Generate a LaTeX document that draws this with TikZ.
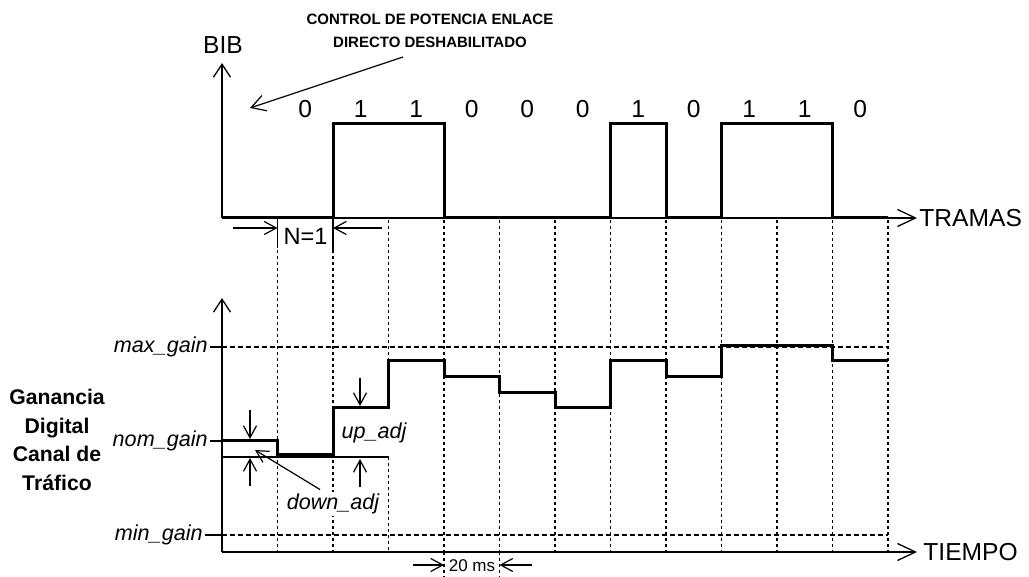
\documentclass[tikz,border=0pt]{standalone}
\usepackage{fontspec}
\setmainfont{Liberation Sans}
\usetikzlibrary{arrows.meta, positioning, calc}
\definecolor{ink}{HTML}{000000}

\begin{document}
\begin{tikzpicture}[x=0.5pt, y=-0.5pt, font=\fontsize{12.3}{14}\selectfont, ink,
    axis/.style={line width=0.65pt, -{Straight Barb[length=6.5pt, width=8.5pt]}},
    longaxis/.style={line width=0.65pt, -{Straight Barb[length=9pt, width=8.5pt]}},
    gap/.style={line width=0.6pt, -{Straight Barb[length=6pt, width=6.5pt]}},
    wave/.style={line width=1.5pt, line join=miter},
    framegrid/.style={line width=0.9pt, dash pattern=on 1.6pt off 1.4pt},
    gainlevel/.style={line width=0.65pt, dash pattern=on 2.5pt off 1.5pt},
    gainlbl/.style={font=\fontsize{10.8}{12}\selectfont\itshape, anchor=east, inner sep=1pt},
    adjlbl/.style={font=\fontsize{10.8}{12}\selectfont\itshape, inner sep=1pt, fill=white}]
  \useasboundingbox (0,0) rectangle (1029,577);

  % frame grid
  \foreach \i in {1,2,4,5,6,7,8,9,10,11,12} \draw[framegrid] (222+55.5*\i,220) -- (222+55.5*\i,552);
  \draw[framegrid] (388.5,220) -- (388.5,361) (388.5,457) -- (388.5,552);
  \foreach \i in {4,5} \draw[framegrid] (222+55.5*\i,552) -- (222+55.5*\i,577);
  \draw[line width=0.6pt] (277.5,218) -- (277.5,248) (333,218) -- (333,250);

  % BIB axis
  \coordinate (o1) at (222,218);
  \coordinate (bibtop) at (222,63);
  \coordinate (tramas) at (917,218);
  \draw[axis] (o1) -- (bibtop);
  \draw[longaxis] (o1) -- (tramas);
  \node (bib) at (223,45) {BIB};
  \node[anchor=west, inner sep=1pt] (tramaslbl) at (tramas) {TRAMAS};
  \foreach \b [count=\i] in {0,1,1,0,0,0,1,0,1,1,0}
    \node (bit\i) at (249.75+55.5*\i,109) {\b};
  \draw[wave] (o1) -| (333,124) -| (444,218) -| (610.5,124) -| (666,218) -| (721.5,124) -| (832.5,218) -- (888,218);

  \node[align=center, font=\fontsize{7.5}{11.5}\selectfont\bfseries] (ctrl) at (430,31)
    {CONTROL DE POTENCIA ENLACE\\DIRECTO DESHABILITADO};
  \coordinate (ctrlfrom) at (403,57);
  \coordinate (ctrlto) at (250,108);
  \draw[gap, -{Straight Barb[length=7pt, width=8pt]}] (ctrlfrom) -- (ctrlto);

  % N=1
  \node[font=\fontsize{11.8}{14}\selectfont] (n1) at (305.5,236) {N=1};
  \coordinate (n1a) at (233,228);
  \coordinate (n1b) at (382,228);
  \draw[gap] (n1a) -- (277.5,228);
  \draw[gap] (n1b) -- (333,228);

  % gain axis
  \coordinate (o2) at (222,552);
  \coordinate (gaintop) at (222,298);
  \coordinate (tiempo) at (917,552);
  \draw[axis] (o2) -- (gaintop);
  \draw[longaxis] (o2) -- (tiempo);
  \node[anchor=west, inner sep=1pt] (tiempolbl) at (921,552) {TIEMPO};

  \node[gainlbl] (maxg) at (210,347) {max\_gain};
  \node[gainlbl] (nomg) at (210,441) {nom\_gain};
  \node[gainlbl] (ming) at (205,535) {min\_gain};
  \draw[line width=0.6pt] (maxg.east) -- (222,347) (nomg.east) -- (222,441) (ming.east) -- (222,535);
  \draw[gainlevel] (222,347) -- (888,347);
  \draw[gainlevel] (222,535) -- (888,535);
  \draw[line width=0.6pt] (222,457) -- (388.5,457);

  \node[align=center, font=\fontsize{10.6}{14.3}\selectfont\bfseries] (gd) at (57,440)
    {Ganancia\\Digital\\Canal de\\Tráfico};

  \draw[wave] (222,441) -| (277.5,455) -| (333,408) -| (388.5,361) -| (444,377) -| (499.5,393)
    -| (555,408) -| (610.5,361) -| (666,377) -| (721.5,346) -| (832.5,361) -- (888,361);

  % adjustments
  \draw[gap] (250,410) -- (250,439);
  \draw[gap] (250,486) -- (250,458);
  \draw[gap] (360,378) -- (360,406);
  \draw[gap] (360,487) -- (360,459);
  \node[adjlbl] (upadj) at (374,433) {up\_adj};
  \node[adjlbl] (downadj) at (333,504) {down\_adj};
  \coordinate (downto) at (255,450);
  \draw[gap] ($(downadj.north)+(-13,-2)$) -- (downto);

  % 20 ms
  \node[font=\fontsize{8.5}{10}\selectfont, inner sep=1pt] (ms) at (472,566) {20 ms};
  \coordinate (msa) at (413,565);
  \coordinate (msb) at (532,565);
  \draw[gap] (msa) -- (444,565);
  \draw[gap] (msb) -- (499.5,565);
\end{tikzpicture}
\end{document}
